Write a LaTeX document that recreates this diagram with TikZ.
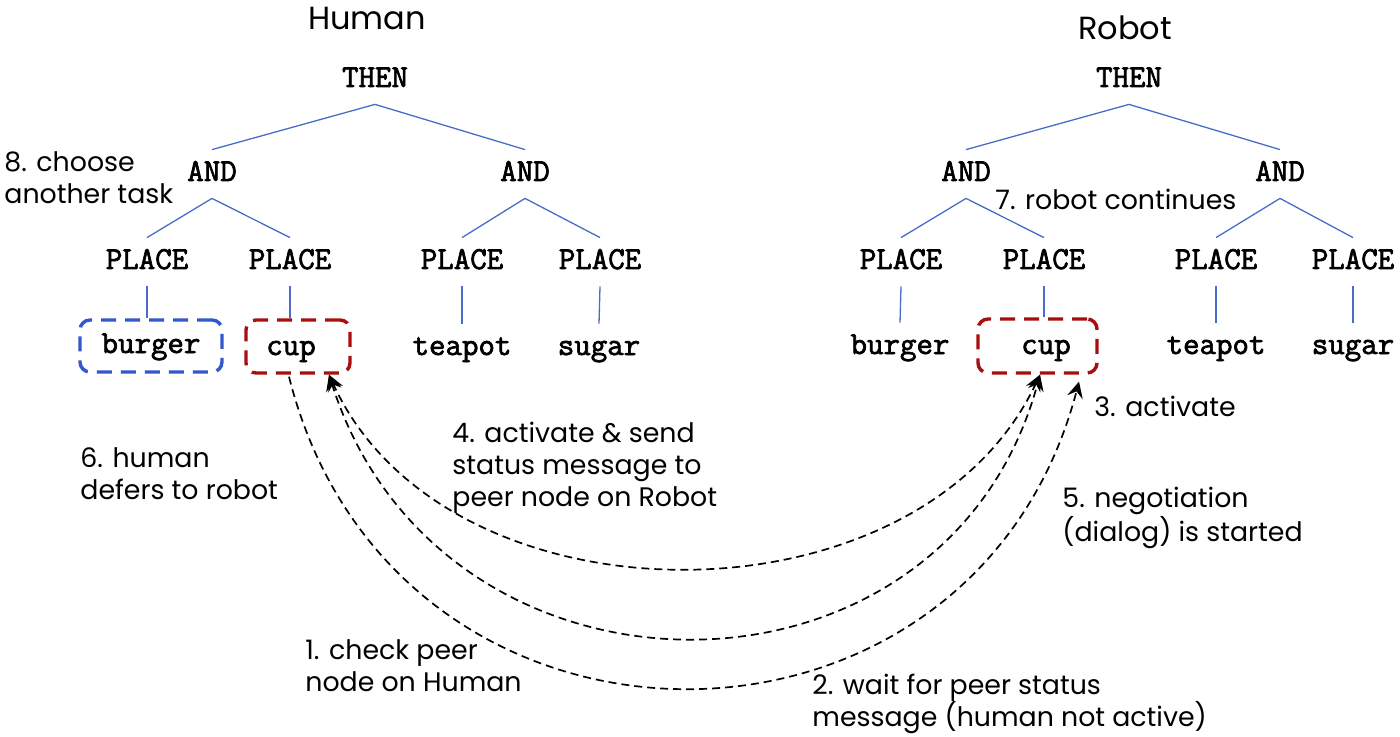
\documentclass[tikz,border=0pt]{standalone}
\usepackage{fontspec}
\setmainfont{Poppins}
\newfontfamily\opfont{Latin Modern Mono}[FakeBold=2.2]
\usetikzlibrary{arrows.meta,calc}
\definecolor{treeblue}{RGB}{72,108,200}
\definecolor{boxblue}{RGB}{50,88,205}
\definecolor{boxred}{RGB}{168,14,14}
\begin{document}
\begin{tikzpicture}[x=0.5pt,y=-0.5pt,
  op/.style={font=\opfont\fontsize{16}{18}\selectfont, inner sep=0pt,
    text height=10pt, text depth=3pt, minimum height=24pt},
  title/.style={font=\fontsize{16}{19}\selectfont, inner sep=0pt},
  lbl/.style={font=\fontsize{13.4}{16}\selectfont, inner sep=0pt, align=left, anchor=west},
  tree/.style={draw=treeblue, line width=0.65pt},
  bluebox/.style={draw=boxblue, line width=1.7pt, dash pattern=on 7.5pt off 4.5pt,
    rounded corners=5pt, minimum width=71pt, minimum height=26pt},
  redbox/.style={draw=boxred, line width=1.7pt, dash pattern=on 7.5pt off 4.5pt,
    rounded corners=5pt},
  msg/.style={draw=black, line width=0.85pt, dash pattern=on 4pt off 2.5pt,
    >={Stealth[length=8pt,width=8pt,inset=3pt]}}
]
\useasboundingbox (0,0) rectangle (1400,737);

% ---------------- Human tree ----------------
\node[title] (htitle) at (367,18) {Human};
\node[op] (hthen) at (375,80) {THEN};
\node[op] (hand1) at (212,174) {AND};
\node[op] (hand2) at (525,174) {AND};
\node[op] (hp1) at (147,262) {PLACE};
\node[op] (hp2) at (290,262) {PLACE};
\node[op] (hp3) at (462,262) {PLACE};
\node[op] (hp4) at (600,262) {PLACE};
\node[op, bluebox] (hburger) at (151,346) {burger};
\node[redbox, minimum width=52pt, minimum height=26.5pt] (hcupbox) at (298,346.5) {};
\node[op] (hcup) at (291,348) {cup};
\node[op] (hteapot) at (462,348) {teapot};
\node[op] (hsugar) at (599,348) {sugar};

\draw[tree] (hthen.south) -- (hand1.north);
\draw[tree] (hthen.south) -- (hand2.north);
\draw[tree] (hand1.south) -- (hp1.north);
\draw[tree] (hand1.south) -- (hp2.north);
\draw[tree] (hand2.south) -- (hp3.north);
\draw[tree] (hand2.south) -- (hp4.north);
\draw[tree] (hp1.south) -- (hp1.south |- hburger.north);
\draw[tree] (hp2.south) -- (hp2.south |- hcupbox.north);
\draw[tree] (hp3.south) -- (hteapot.north);
\draw[tree] (hp4.south) -- (hsugar.north);

% ---------------- Robot tree ----------------
\node[title] (rtitle) at (1125,28) {Robot};
\node[op] (rthen) at (1129,80) {THEN};
\node[op] (rand1) at (966,174) {AND};
\node[op] (rand2) at (1280,174) {AND};
\node[op] (rp1) at (901,262) {PLACE};
\node[op] (rp2) at (1044,262) {PLACE};
\node[op] (rp3) at (1216,262) {PLACE};
\node[op] (rp4) at (1353,262) {PLACE};
\node[op] (rburger) at (900,347) {burger};
\node[redbox, minimum width=59.5pt, minimum height=27pt] (rcupbox) at (1037.5,346) {};
\node[op] (rcup) at (1046,347) {cup};
\node[op] (rteapot) at (1216,347) {teapot};
\node[op] (rsugar) at (1353,347) {sugar};

\draw[tree] (rthen.south) -- (rand1.north);
\draw[tree] (rthen.south) -- (rand2.north);
\draw[tree] (rand1.south) -- (rp1.north);
\draw[tree] (rand1.south) -- (rp2.north);
\draw[tree] (rand2.south) -- (rp3.north);
\draw[tree] (rand2.south) -- (rp4.north);
\draw[tree] (rp1.south) -- (rburger.north);
\draw[tree] (rp2.south) -- (rp2.south |- rcupbox.north);
\draw[tree] (rp3.south) -- (rteapot.north);
\draw[tree] (rp4.south) -- (rsugar.north);

% ---------------- message curves ----------------
\draw[msg, <->] ([xshift=15.5pt]hcupbox.south) .. controls (446,632) and (919,632) .. ([xshift=1.25pt]rcupbox.south);
\draw[msg, <->] ([xshift=15.5pt]hcupbox.south) .. controls (440,725) and (945,725) .. ([xshift=1.25pt]rcupbox.south);
\draw[msg, ->] ([xshift=-4.5pt,yshift=-1pt]hcupbox.south) .. controls (393,791) and (972,791) .. ([xshift=20.75pt,yshift=-3.5pt]rcupbox.south);

% ---------------- labels ----------------
\node[lbl] (l8) at (4,178) {8. choose\\another task};
\node[lbl] (l7) at (995,199) {7. robot continues};
\node[lbl] (l3) at (1094,406) {3. activate};
\node[lbl] (l4) at (452,468) {4. activate \& send\\status message to\\peer node on Robot};
\node[lbl] (l6) at (80,474) {6. human\\defers to robot};
\node[lbl] (l5) at (1062,518) {5. negotiation\\(dialog) is started};
\node[lbl] (l1) at (305,666) {1. check peer\\node on Human};
\node[lbl] (l2) at (812,704) {2. wait for peer status\\message (human not active)};
\end{tikzpicture}
\end{document}
